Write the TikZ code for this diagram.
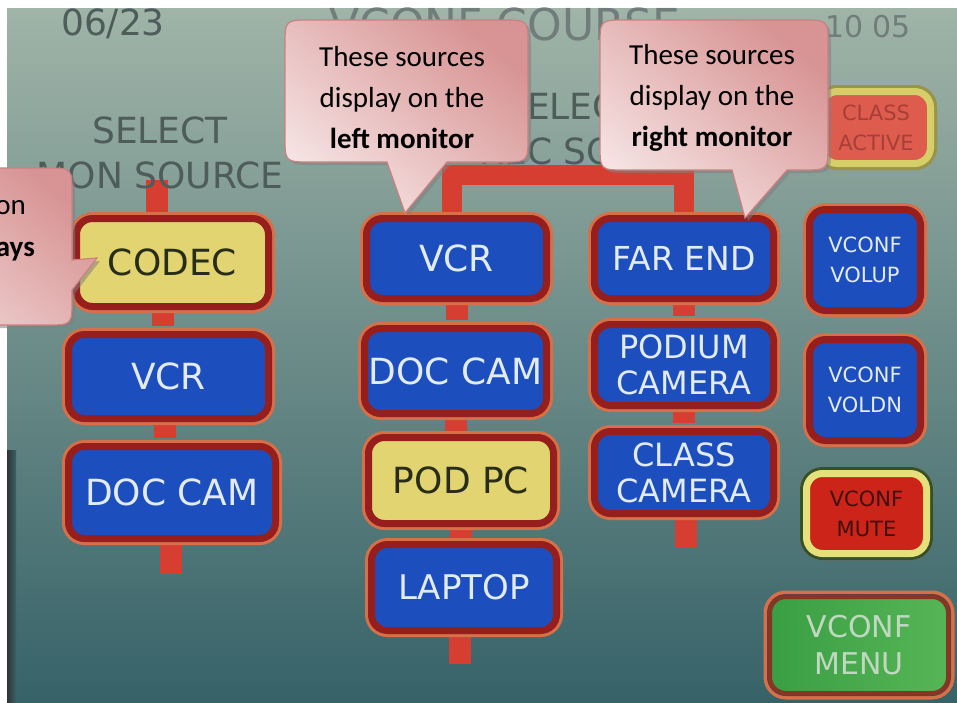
\documentclass[tikz,border=0pt]{standalone}
\usepackage{fontspec}
\newfontfamily\panelfont{DejaVu Sans}
\newfontfamily\tipfont{Carlito}
\usetikzlibrary{shadows}
\pgfdeclarelayer{screen}
\pgfdeclarelayer{links}
\pgfsetlayers{screen,links,main}

\definecolor{panelTop}{RGB}{160,180,168}
\definecolor{panelMid}{RGB}{146,192,184}
\definecolor{panelBottom}{RGB}{54,98,104}
\definecolor{screenink}{RGB}{78,92,90}
\definecolor{keyblue}{RGB}{28,78,190}
\definecolor{keyrim}{RGB}{150,30,28}
\definecolor{keyglow}{RGB}{214,112,72}
\definecolor{keyyellow}{RGB}{226,212,112}
\definecolor{keydark}{RGB}{40,45,25}
\definecolor{keyletter}{RGB}{225,235,240}
\definecolor{linkred}{RGB}{214,62,50}
\definecolor{activefill}{RGB}{222,92,78}
\definecolor{activerim}{RGB}{214,206,104}
\definecolor{activeglow}{RGB}{150,150,72}
\definecolor{activeink}{RGB}{168,62,56}
\definecolor{mutefill}{RGB}{205,36,26}
\definecolor{muterim}{RGB}{230,224,122}
\definecolor{muteglow}{RGB}{52,82,42}
\definecolor{muteink}{RGB}{62,16,12}
\definecolor{menufill}{RGB}{58,158,68}
\definecolor{menulight}{RGB}{86,182,86}
\definecolor{menuink}{RGB}{192,216,192}
\definecolor{balloonlight}{RGB}{246,228,228}
\definecolor{balloondark}{RGB}{216,148,148}
\definecolor{balloonrim}{RGB}{204,128,128}

\tikzset{
  key/.style={rounded corners=16pt, draw=keyrim, line width=7pt,
    preaction={draw=keyglow, line width=13pt}, inner sep=0pt, align=center,
    font=\panelfont\fontsize{36}{38}\selectfont},
  bluekey/.style={key, fill=keyblue, text=keyletter},
  yellowkey/.style={key, fill=keyyellow, text=keydark},
  smallkey/.style={font=\panelfont\fontsize{21}{30}\selectfont},
  link/.style={draw=linkred, line width=22pt},
  screentext/.style={text=screenink, inner sep=0pt, align=center,
    font=\panelfont\fontsize{36}{45}\selectfont},
  balloon/.style={draw=balloonrim, line width=1.2pt, top color=balloondark,
    bottom color=balloonlight, shading angle=-40,
    drop shadow={shadow xshift=3pt, shadow yshift=-3pt, fill=black!50, opacity=0.55}},
  tiptext/.style={inner sep=0pt, align=center, font=\tipfont\fontsize{29}{41}\selectfont}
}

\begin{document}
\begin{tikzpicture}[x=1pt,y=-1pt]
\useasboundingbox (0,0) rectangle (957,702);
\clip (0,0) rectangle (957,702);
% the screen
\begin{pgfonlayer}{screen}
\fill[white] (0,0) rectangle (957,702);
\fill[top color=panelTop, middle color=panelMid, bottom color=panelBottom] (7,8) rectangle (957,702);
\fill[left color=black!80, right color=panelBottom] (7,450) rectangle (16,702);
\end{pgfonlayer}

% screen headings
\node[screentext] (date) at (113,24) {06/23};
\node[screentext, text=screenink!80!white, font=\panelfont\fontsize{44}{44}\selectfont] (title) at (505,24) {VCONF COURSE};
\node[screentext, text=screenink!80!white, font=\panelfont\fontsize{30}{30}\selectfont] (clock) at (868,27) {10 05};
\node[screentext] (monhead) at (160,153) {SELECT\\MON SOURCE};
\node[screentext] (rechead) at (572,106) {SELECT};
\node[screentext] (rechead2) at (596,151) {REC SOURCE};

% keys
\node[yellowkey, minimum width=192pt, minimum height=88pt] (codec) at (172.5,262.5) {CODEC};
\node[bluekey, minimum width=200pt, minimum height=84pt] (vcrA) at (168.5,376.5) {VCR};
\node[bluekey, minimum width=207pt, minimum height=92pt] (doccamA) at (172,492.5) {DOC CAM};

\node[bluekey, minimum width=180pt, minimum height=80pt] (vcrB) at (456.5,258.5) {VCR};
\node[bluekey, minimum width=182pt, minimum height=85pt] (doccamB) at (455.5,371) {DOC CAM};
\node[yellowkey, minimum width=185pt, minimum height=86pt] (podpc) at (461,480.5) {POD PC};
\node[bluekey, minimum width=185pt, minimum height=86pt, font=\panelfont\fontsize{34}{38}\selectfont] (laptop) at (464,587.5) {LAPTOP};

\node[bluekey, minimum width=179pt, minimum height=80pt, font=\panelfont\fontsize{33}{37}\selectfont] (farend) at (684,258.5) {FAR END};
\node[bluekey, minimum width=179pt, minimum height=81pt, font=\panelfont\fontsize{32}{36}\selectfont] (podium) at (684,365) {PODIUM\\CAMERA};
\node[bluekey, minimum width=179pt, minimum height=82pt, font=\panelfont\fontsize{32}{36}\selectfont] (classcam) at (684,472.5) {CLASS\\CAMERA};

\node[key, smallkey, fill=activefill, draw=activerim, preaction={draw=activeglow, line width=13pt}, text=activeink, minimum width=109pt, minimum height=72pt] (active) at (876,127.5) {CLASS\\ACTIVE};
\node[bluekey, smallkey, minimum width=111pt, minimum height=101pt] (volup) at (865,260) {VCONF\\VOLUP};
\node[bluekey, smallkey, minimum width=111pt, minimum height=101pt] (voldn) at (865,390) {VCONF\\VOLDN};
\node[key, smallkey, fill=mutefill, draw=muterim, preaction={draw=muteglow, line width=13pt}, text=muteink, minimum width=120pt, minimum height=80pt] (mute) at (866.5,513.5) {VCONF\\MUTE};
\node[key, left color=menufill, right color=menulight, draw=keyrim!80!menufill, line width=4pt, preaction={draw=keyrim!60!panelBottom, line width=6pt}, text=menuink, font=\panelfont\fontsize{30}{37}\selectfont, minimum width=178pt, minimum height=96pt] (menu) at (859,645) {VCONF\\MENU};

% red links, behind the keys
\coordinate (montop) at (157,180);
\coordinate (monend) at (171,574);
\coordinate (leftend) at (460,664);
\coordinate (rightend) at (686,548);
\begin{pgfonlayer}{links}
\draw[link] (montop) -- (montop |- codec.north);
\draw[link] (codec.south) ++(-10,0) -- ++(0,16);
\draw[link] (vcrA.south) ++(-4,0) -- ++(0,16);
\draw[link] (monend |- doccamA.south) -- (monend);
\draw[link, line width=20pt] (vcrB.north) ++(-5,0) -- ++(0,-40) -| (farend.north);
\draw[link] (vcrB.south) -- ++(0,18);
\draw[link] (doccamB.south) -- ++(0,14);
\draw[link] (podpc.south) -- ++(0,10);
\draw[link] (leftend |- laptop.south) -- (leftend);
\draw[link] (farend.south) -- ++(0,14);
\draw[link] (podium.south) -- ++(0,14);
\draw[link] (rightend |- classcam.south) -- (rightend);
\end{pgfonlayer}

% callouts
\draw[balloon] (97,258) -- (72,290) -- (72,299) .. controls (72,325) .. (46,325) -- (-200,325)
  -- (-200,168) -- (46,168) .. controls (72,168) .. (72,194) -- (72,260) -- cycle;
\node[tiptext, anchor=base east] (codectipA) at (26,214) {on};
\node[tiptext, anchor=base east] (codectipB) at (35,256) {\textbf{ays}};

\draw[balloon] (405,213) -- (447,162) -- (502,162) .. controls (528,162) .. (528,136) -- (528,46)
  .. controls (528,20) .. (502,20) -- (311,20) .. controls (285,20) .. (285,46) -- (285,136)
  .. controls (285,162) .. (311,162) -- (387,162) -- cycle;
\node[tiptext] (lefttip) at (402,98) {These sources\\display on the\\\textbf{left monitor}};

\draw[balloon] (745,218) -- (787,170) -- (802,170) .. controls (828,170) .. (828,144) -- (828,46)
  .. controls (828,20) .. (802,20) -- (626,20) .. controls (600,20) .. (600,46) -- (600,144)
  .. controls (600,170) .. (626,170) -- (732,170) -- cycle;
\node[tiptext] (righttip) at (712,98) {These sources\\display on the\\\textbf{right monitor}};
\end{tikzpicture}
\end{document}
